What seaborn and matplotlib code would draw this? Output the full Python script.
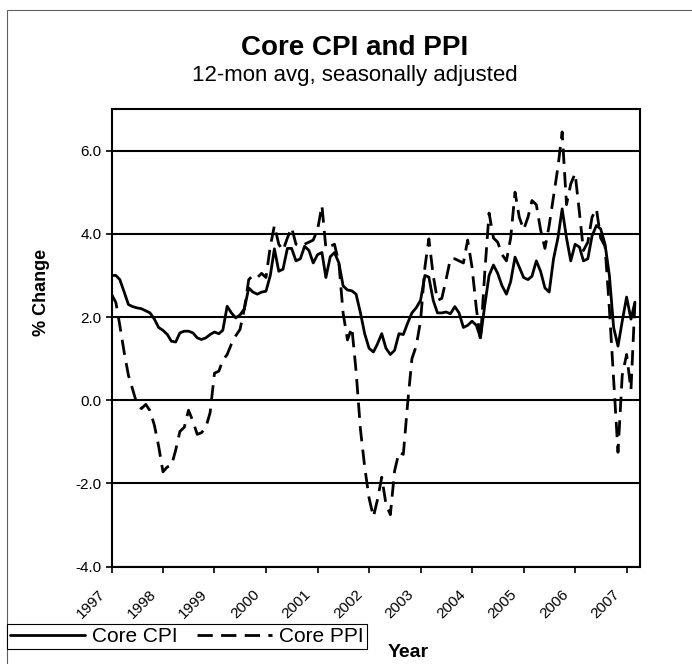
import numpy as np
import pandas as pd
import matplotlib
matplotlib.use("Agg")
import matplotlib.pyplot as plt
import matplotlib.transforms as mtransforms
from matplotlib.patches import Rectangle
import seaborn as sns

# ---------------- data ----------------
start_month = "1997-01"
core_cpi = [3.0, 3.0, 2.9, 2.6, 2.3, 2.25, 2.22, 2.2, 2.15, 2.1, 1.95, 1.75,
            1.68, 1.58, 1.42, 1.4, 1.62, 1.66, 1.66, 1.62, 1.5, 1.46, 1.5, 1.58,
            1.64, 1.6, 1.68, 2.26, 2.1, 1.98, 2.05, 2.2, 2.7, 2.6, 2.55, 2.6,
            2.62, 3.0, 3.64, 3.1, 3.15, 3.65, 3.65, 3.35, 3.4, 3.7, 3.6, 3.3,
            3.5, 3.55, 2.95, 3.45, 3.55, 3.3, 2.75, 2.65, 2.63, 2.55, 2.1, 1.6,
            1.25, 1.16, 1.35, 1.6, 1.25, 1.1, 1.2, 1.6, 1.58, 1.85, 2.1, 2.22,
            2.4, 3.0, 2.96, 2.4, 2.1, 2.1, 2.12, 2.08, 2.25, 2.1, 1.75, 1.8,
            1.9, 1.8, 1.5, 2.3, 3.0, 3.25, 3.05, 2.75, 2.55, 2.85, 3.44, 3.2,
            2.95, 2.9, 2.98, 3.35, 3.1, 2.7, 2.6, 3.4, 3.9, 4.6, 3.9, 3.35,
            3.75, 3.68, 3.35, 3.4, 3.95, 4.2, 4.12, 3.75, 3.0, 1.75, 1.3, 1.9,
            2.48, 1.95, 2.36]
core_ppi = [2.55, 2.35, 1.8, 1.15, 0.6, 0.25, -0.1, -0.2, -0.1, -0.25, -0.6, -1.1,
            -1.72, -1.6, -1.58, -1.2, -0.75, -0.65, -0.24, -0.5, -0.82, -0.78, -0.65, -0.3,
            0.65, 0.7, 0.96, 1.1, 1.35, 1.55, 1.7, 2.2, 2.9, 3.0, 2.95, 3.05,
            2.95, 3.7, 4.2, 3.75, 3.6, 3.9, 4.15, 3.75, 3.7, 3.75, 3.8, 3.85,
            4.1, 4.68, 3.65, 3.7, 3.75, 3.3, 2.1, 1.45, 1.75, 0.7, -0.7, -1.6,
            -2.35, -2.8, -2.4, -1.85, -2.5, -2.75, -1.7, -1.25, -1.3, -0.1, 1.0, 1.3,
            1.9, 3.2, 3.88, 3.0, 2.4, 2.45, 2.9, 3.4, 3.4, 3.35, 3.3, 3.85,
            3.2, 2.2, 1.45, 3.1, 4.5, 3.9, 3.8, 3.5, 3.35, 3.9, 5.0, 4.4,
            4.1, 4.4, 4.8, 4.7, 4.1, 3.65, 4.2, 4.9, 5.6, 6.45, 4.7, 5.2,
            5.45, 4.5, 3.6, 3.8, 4.4, 4.6, 3.9, 3.7, 2.2, 0.5, -1.25, 0.6,
            1.1, 0.25, 2.35]
series_names = ["Core CPI", "Core PPI"]
year_labels = ["1997", "1998", "1999", "2000", "2001", "2002",
               "2003", "2004", "2005", "2006", "2007"]
y_ticks = [-4, -2, 0, 2, 4, 6]
y_tick_labels = ["-4.0", "-2.0", "0.0", "2.0", "4.0", "6.0"]
x_end = "2007-04-06"

n = len(core_cpi)
dates = pd.period_range(start_month, periods=n, freq="M").to_timestamp()
df = pd.DataFrame({
    "date": list(dates) + list(dates),
    "value": core_cpi + core_ppi,
    "series": [series_names[0]] * n + [series_names[1]] * n,
})

# ---------------- style ----------------
sns.set_theme(style="white")
plt.rcParams["font.family"] = ["Liberation Sans", "DejaVu Sans"]

W, H = 692, 664
fig = plt.figure(figsize=(W / 100, H / 100), dpi=100)
fig.patch.set_facecolor("white")

left, right, top, bottom = 111.5, 640, 109, 566.7
ax = fig.add_axes([left / W, 1 - bottom / H, (right - left) / W, (bottom - top) / H])

sns.lineplot(data=df, x="date", y="value", style="series",
             dashes={"Core CPI": "", "Core PPI": (5.5, 3.0)},
             color="black", linewidth=2.0, ax=ax, legend=False,
             estimator=None, sort=False)

ax.set_ylim(-4, 7)
ax.set_xlim(pd.Timestamp(start_month), pd.Timestamp(x_end))
ax.set_yticks(y_ticks)
ax.set_yticklabels(y_tick_labels, fontsize=11)
ax.set_xticks(pd.to_datetime(year_labels))
ax.set_xticklabels(year_labels, rotation=45, ha="right", fontsize=11)
ax.set_xlabel("")
ax.set_ylabel("")

ax.yaxis.grid(True, color="black", linewidth=1.5)
ax.xaxis.grid(False)
ax.set_axisbelow(True)
for sp in ax.spines.values():
    sp.set_visible(True)
    sp.set_color("black")
    sp.set_linewidth(1.5)

ax.tick_params(axis="x", bottom=True, length=4, width=1.2, color="black",
               direction="out", pad=11, labelcolor="black")
ax.tick_params(axis="y", left=True, length=4, width=1.2, color="black",
               direction="out", pad=3, labelcolor="black")

shift = mtransforms.ScaledTranslation(-4 / 100, 0, fig.dpi_scale_trans)
for lab in ax.get_xticklabels():
    lab.set_transform(lab.get_transform() + shift)

# ---------------- texts ----------------
fig.text(355 / W, 1 - 55 / H, "Core CPI and PPI", ha="center", va="baseline",
         fontsize=20, fontweight="bold", color="black")
fig.text(355 / W, 1 - 81 / H, "12-mon avg, seasonally adjusted", ha="center",
         va="baseline", fontsize=16, color="black")
fig.text(42 / W, 1 - 292 / H, "% Change", rotation=90, ha="center", va="center",
         fontsize=13, fontweight="bold", color="black")
fig.text(388 / W, 1 - 657 / H, "Year", ha="left", va="baseline",
         fontsize=14, fontweight="bold", color="black")

# ---------------- legend ----------------
handles = ax.get_lines()[:2]
leg = fig.legend(handles, series_names, loc="lower left",
                 bbox_to_anchor=(7 / W, 1 - 649 / H), bbox_transform=fig.transFigure,
                 ncol=2, frameon=True, fancybox=False, edgecolor="black",
                 framealpha=1, fontsize=15, handlelength=3.6, handletextpad=0.35,
                 columnspacing=0.9, borderpad=0.15, borderaxespad=0)
leg.get_frame().set_linewidth(0.8)
for t in leg.get_texts():
    t.set_color("black")

# ---------------- chart-area border ----------------
fig.patches.append(Rectangle((7 / W, -0.2), 1.5, (1 - 10 / H) + 0.2,
                             transform=fig.transFigure, fill=False,
                             edgecolor="#606060", linewidth=0.8))

fig.savefig("out.png", dpi=100, facecolor="white")
